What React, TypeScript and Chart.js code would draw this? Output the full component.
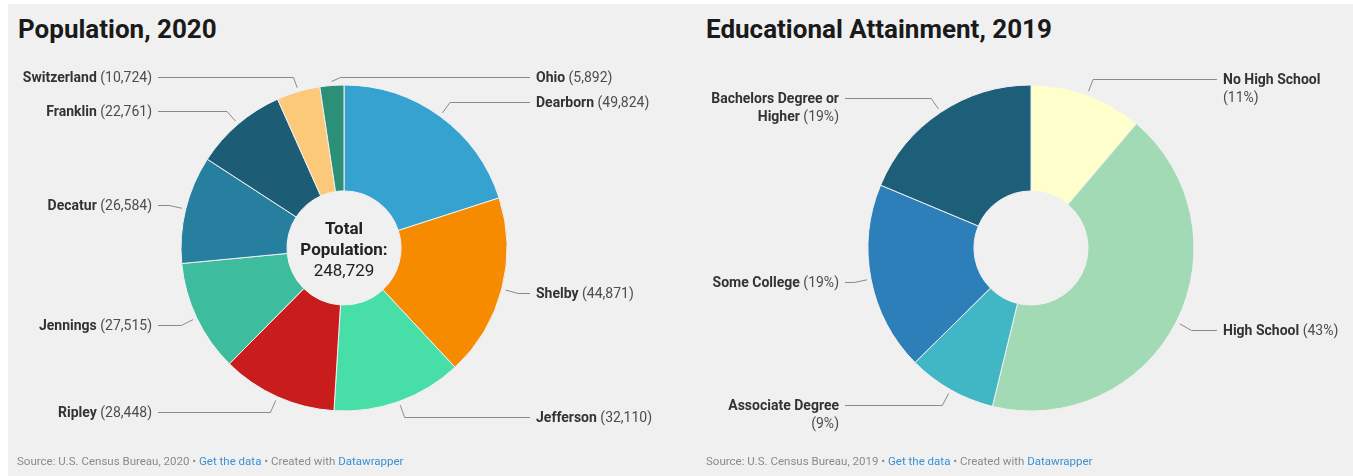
import React, { useEffect, useRef } from 'react';
import { Chart, registerables } from 'chart.js';

Chart.register(...registerables);

// ---------- data ----------
const popCategories = ['Dearborn', 'Shelby', 'Jefferson', 'Ripley', 'Jennings', 'Decatur', 'Franklin', 'Switzerland', 'Ohio'];
const popValues = [49824, 44871, 32110, 28448, 27515, 26584, 22761, 10724, 5892];
const popTotalLines = ['Total', 'Population:', '248,729'];

const eduCategories = ['No High School', 'High School', 'Associate Degree', 'Some College', 'Bachelors Degree or Higher'];
// percentages (labels show rounded values)
const eduValues = [11.2, 42.6, 8.8, 18.7, 18.7];

// ---------- styles ----------
const popColors = ['#36a2cf', '#f68b00', '#48dea7', '#c91c1c', '#3dbd9d', '#277f9f', '#1c5d75', '#fcc97b', '#2c8f78'];
const eduColors = ['#ffffcc', '#a1dab4', '#41b6c4', '#2c7fb8', '#1d5f79'];

const FONT = 'Roboto, "Noto Sans", "DejaVu Sans", sans-serif';

type LabelCfg = {
  fmt: (v: number) => string;
  maxWidth: number;
  fontSize: number;
  lineHeight: number;
  center?: string[];
};

function makeLabelPlugin(cfg: LabelCfg) {
  return {
    id: 'dwLabels',
    afterDraw(chart: any) {
      const ctx: CanvasRenderingContext2D = chart.ctx;
      const meta = chart.getDatasetMeta(0);
      const arcs = meta.data as any[];
      if (!arcs.length) return;
      const labels = chart.data.labels as string[];
      const values = chart.data.datasets[0].data as number[];
      const a0 = arcs[0].getProps(['x', 'y', 'outerRadius'], true);
      const cx = a0.x, cy = a0.y, R = a0.outerRadius;
      const boldF = `bold ${cfg.fontSize}px ${FONT}`;
      const regF = `${cfg.fontSize}px ${FONT}`;
      const measure = (t: string, b: boolean) => {
        ctx.font = b ? boldF : regF;
        return ctx.measureText(t).width;
      };
      ctx.save();
      const spaceW = measure(' ', false);
      const items = arcs.map((arc: any, i: number) => {
        const p = arc.getProps(['startAngle', 'endAngle'], true);
        const mid = (p.startAngle + p.endAngle) / 2;
        let deg = ((mid + Math.PI / 2) * 180) / Math.PI % 360;
        if (deg < 0) deg += 360;
        const side = deg < 180 || deg > 352 ? 1 : -1;
        const ax = cx + Math.cos(mid) * (R + 4);
        const ay = cy + Math.sin(mid) * (R + 4);
        const ex = cx + Math.cos(mid) * (R + 17);
        const ey = cy + Math.sin(mid) * (R + 17);
        const words = [
          ...labels[i].split(' ').map((w) => ({ t: w, b: true })),
          { t: cfg.fmt(values[i]), b: false },
        ];
        const lines: { toks: { t: string; b: boolean }[]; w: number }[] = [];
        let cur: { t: string; b: boolean }[] = [];
        let curW = 0;
        for (const w of words) {
          const ww = measure(w.t, w.b);
          const add = cur.length ? spaceW + ww : ww;
          if (cur.length && curW + add > cfg.maxWidth) {
            lines.push({ toks: cur, w: curW });
            cur = [w];
            curW = ww;
          } else {
            cur.push(w);
            curW += add;
          }
        }
        lines.push({ toks: cur, w: curW });
        return { side, ax, ay, ex, ey, y: ey, lines };
      });

      const top = cy - R - 8;
      const bottom = cy + R + 9;
      for (const s of [1, -1]) {
        const group = items.filter((it) => it.side === s).sort((a, b) => a.ey - b.ey);
        for (const it of group) it.y = Math.min(Math.max(it.y, top), bottom);
        for (let k = 1; k < group.length; k++) {
          const prev = group[k - 1];
          const minY = prev.y + prev.lines.length * cfg.lineHeight + 4;
          if (group[k].y < minY) group[k].y = minY;
        }
      }

      ctx.strokeStyle = '#8a8a8a';
      ctx.lineWidth = 1;
      ctx.textBaseline = 'alphabetic';
      const capMid = Math.round(cfg.fontSize * 0.36);
      for (const it of items) {
        let bx = it.ex;
        const yy = Math.round(it.y);
        const by = yy + 0.5;
        if (Math.abs(it.y - it.ey) > 2) {
          bx = it.side > 0 ? Math.max(it.ex, it.ax + 9) : Math.min(it.ex, it.ax - 9);
        }
        const endX = cx + it.side * (R + 23);
        ctx.beginPath();
        ctx.moveTo(it.ax, it.ay);
        ctx.lineTo(bx, by);
        ctx.lineTo(endX, by);
        ctx.stroke();

        const lx = cx + it.side * (R + 29);
        it.lines.forEach((ln, li) => {
          let x = it.side > 0 ? lx : lx - ln.w;
          const y = yy + capMid + li * cfg.lineHeight;
          ln.toks.forEach((tk, ti) => {
            if (ti > 0) x += spaceW;
            ctx.font = tk.b ? boldF : regF;
            ctx.fillStyle = tk.b ? '#333333' : '#4d4d4d';
            ctx.textAlign = 'left';
            ctx.fillText(tk.t, x, y);
            x += ctx.measureText(tk.t).width;
          });
        });
      }

      if (cfg.center) {
        ctx.textAlign = 'center';
        const n = cfg.center.length;
        cfg.center.forEach((t, i) => {
          const last = i === n - 1;
          ctx.font = last ? `17px ${FONT}` : `bold 17px ${FONT}`;
          ctx.fillStyle = '#222222';
          ctx.fillText(t, cx, cy + 1 + 6 + (i - (n - 1) / 2) * 21);
        });
      }
      ctx.restore();
    },
  };
}

type PieProps = {
  left: number;
  width: number;
  centerX: number; // page coords
  centerY: number;
  radius: number;
  categories: string[];
  values: number[];
  colors: string[];
  cfg: LabelCfg;
};

function Pie(props: PieProps) {
  const ref = useRef<HTMLCanvasElement | null>(null);
  useEffect(() => {
    if (!ref.current) return;
    const H = 476;
    const cxc = props.centerX - props.left;
    const half = props.radius + 0.5;
    const chart = new Chart(ref.current, {
      type: 'doughnut',
      data: {
        labels: props.categories,
        datasets: [
          {
            data: props.values,
            backgroundColor: props.colors,
            borderColor: '#f0f0f0',
            borderWidth: 1,
          },
        ],
      },
      options: {
        responsive: false,
        animation: false,
        cutout: '35%',
        events: [],
        layout: {
          padding: {
            left: cxc - half,
            right: props.width - cxc - half,
            top: props.centerY - half,
            bottom: H - props.centerY - half,
          },
        },
        plugins: { legend: { display: false }, tooltip: { enabled: false } },
      },
      plugins: [makeLabelPlugin(props.cfg) as any],
    });
    return () => chart.destroy();
  }, []);
  return (
    <canvas
      ref={ref}
      width={props.width}
      height={476}
      style={{ position: 'absolute', left: props.left, top: 0, width: props.width, height: 476 }}
    />
  );
}

const titleStyle: React.CSSProperties = {
  position: 'absolute',
  top: 16,
  font: `bold 26px ${FONT}`,
  lineHeight: '26px',
  color: '#1a1a1a',
  whiteSpace: 'nowrap',
};

const srcStyle: React.CSSProperties = {
  position: 'absolute',
  top: 455,
  font: `11.5px ${FONT}`,
  lineHeight: '12px',
  color: '#8a8a8a',
  whiteSpace: 'nowrap',
};
const linkColor = '#3a90d4';

function Source({ left, year }: { left: number; year: number }) {
  return (
    <div style={{ ...srcStyle, left }}>
      Source: U.S. Census Bureau, {year} • <span style={{ color: linkColor }}>Get the data</span> • Created with{' '}
      <span style={{ color: linkColor }}>Datawrapper</span>
    </div>
  );
}

export default function App() {
  return (
    <div style={{ position: 'absolute', left: 0, top: 0, width: 1353, height: 476, background: '#ffffff', overflow: 'hidden' }}>
      <div style={{ position: 'absolute', left: 8, top: 4, width: 1345, height: 472, background: '#f0f0f0' }} />
      <div style={{ ...titleStyle, left: 18 }}>Population, 2020</div>
      <div style={{ ...titleStyle, left: 706 }}>Educational Attainment, 2019</div>
      <Pie
        left={8}
        width={682}
        centerX={344}
        centerY={248}
        radius={163}
        categories={popCategories}
        values={popValues}
        colors={popColors}
        cfg={{
          fmt: (v) => `(${v.toLocaleString('en-US')})`,
          maxWidth: 160,
          fontSize: 14,
          lineHeight: 18,
          center: popTotalLines,
        }}
      />
      <Pie
        left={690}
        width={663}
        centerX={1031}
        centerY={248}
        radius={163}
        categories={eduCategories}
        values={eduValues}
        colors={eduColors}
        cfg={{
          fmt: (v) => `(${Math.round(v)}%)`,
          maxWidth: 132,
          fontSize: 14,
          lineHeight: 18,
        }}
      />
      <Source left={17} year={2020} />
      <Source left={706} year={2019} />
    </div>
  );
}
